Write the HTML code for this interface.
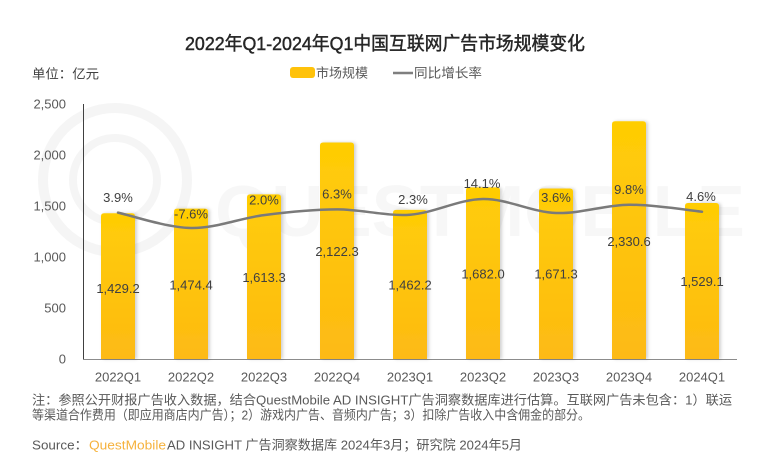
<!DOCTYPE html>
<html>
<head>
<meta charset="utf-8">
<style>
html,body{margin:0;padding:0;background:#fff;}
svg{display:block;}
text{font-family:"Liberation Sans","Noto Sans CJK SC",sans-serif;}
</style>
</head>
<body>
<svg width="770" height="460" viewBox="0 0 770 460" xmlns="http://www.w3.org/2000/svg">
<defs>
<linearGradient id="bg" x1="0" y1="0" x2="0" y2="1">
<stop offset="0" stop-color="#FFCD05"/>
<stop offset="1" stop-color="#FDBA14"/>
</linearGradient>
<filter id="sh" x="-20%" y="-5%" width="150%" height="110%">
<feDropShadow dx="2" dy="0" stdDeviation="1.5" flood-color="#000" flood-opacity="0.18"/>
</filter>
</defs>

<!-- watermark -->
<g fill="none" stroke="#f5f5f5">
<circle cx="115" cy="180" r="72" stroke-width="10"/>
<circle cx="115" cy="180" r="42" stroke-width="8"/>
</g>
<text x="215" y="236" font-size="72" font-weight="bold" fill="#f7f7f7" textLength="530" lengthAdjust="spacingAndGlyphs">QUESTMOBILE</text>

<!-- title -->
<text x="385" y="50" font-size="18.5" fill="#262626" stroke="#262626" stroke-width="0.45" text-anchor="middle" textLength="400" lengthAdjust="spacingAndGlyphs">2022年Q1-2024年Q1中国互联网广告市场规模变化</text>

<!-- unit -->
<text x="32" y="78.5" font-size="13" fill="#404040" textLength="67" lengthAdjust="spacingAndGlyphs">单位：亿元</text>

<!-- legend -->
<rect x="290" y="67" width="25" height="11" rx="3" fill="#FFC20A"/>
<text x="316" y="77.5" font-size="13" fill="#595959" textLength="52" lengthAdjust="spacingAndGlyphs">市场规模</text>
<line x1="393" y1="73" x2="413" y2="73" stroke="#7f7f7f" stroke-width="2.5"/>
<text x="414" y="77.5" font-size="13" fill="#595959" textLength="68" lengthAdjust="spacingAndGlyphs">同比增长率</text>

<!-- y ticks -->
<g font-size="13" fill="#595959" text-anchor="end">
<text x="66" y="363.5">0</text>
<text x="66" y="312.5">500</text>
<text x="66" y="261.5">1,000</text>
<text x="66" y="210.5">1,500</text>
<text x="66" y="159.5">2,000</text>
<text x="66" y="108.5">2,500</text>
</g>

<!-- axes -->
<line x1="83.5" y1="104" x2="83.5" y2="359" stroke="#404040" stroke-width="1"/>
<line x1="83" y1="359.5" x2="737" y2="359.5" stroke="#8c8c8c" stroke-width="1"/>

<!-- bars -->
<g fill="url(#bg)" filter="url(#sh)">
<path d="M101,359 V216.2 Q101,213.2 104,213.2 H132 Q135,213.2 135,216.2 V359 Z"/>
<path d="M174,359 V211.6 Q174,208.6 177,208.6 H205 Q208,208.6 208,211.6 V359 Z"/>
<path d="M247,359 V197.4 Q247,194.4 250,194.4 H278 Q281,194.4 281,197.4 V359 Z"/>
<path d="M320,359 V145.5 Q320,142.5 323,142.5 H351 Q354,142.5 354,145.5 V359 Z"/>
<path d="M393,359 V212.9 Q393,209.9 396,209.9 H424 Q427,209.9 427,212.9 V359 Z"/>
<path d="M466,359 V190.4 Q466,187.4 469,187.4 H497 Q500,187.4 500,190.4 V359 Z"/>
<path d="M539,359 V191.5 Q539,188.5 542,188.5 H570 Q573,188.5 573,191.5 V359 Z"/>
<path d="M612,359 V124.3 Q612,121.3 615,121.3 H643 Q646,121.3 646,124.3 V359 Z"/>
<path d="M685,359 V206 Q685,203 688,203 H716 Q719,203 719,206 V359 Z"/>
</g>

<!-- growth line -->
<path d="M118,212.6 C130,215.2 166.7,227.6 191,228 C215.3,228.4 239.7,218.2 264,215.1 C288.3,212 312.7,209.5 337,209.4 C361.3,209.3 385.7,216.4 410,214.7 C434.3,213 458.7,199.3 483,199 C507.3,198.7 531.7,212.1 556,213 C580.3,213.9 604.7,204.9 629,204.7 C653.3,204.5 689.8,210.5 702,211.7" fill="none" stroke="#7a7a7a" stroke-width="2.5" stroke-linecap="round"/>

<!-- percent labels -->
<g font-size="13" fill="#404040" text-anchor="middle">
<text x="118" y="202.2">3.9%</text>
<text x="191" y="218.5">-7.6%</text>
<text x="264" y="204.5">2.0%</text>
<text x="337" y="198.5">6.3%</text>
<text x="413" y="203.8">2.3%</text>
<text x="482" y="187.8">14.1%</text>
<text x="556" y="202.2">3.6%</text>
<text x="629" y="193.8">9.8%</text>
<text x="701" y="201.2">4.6%</text>
</g>

<!-- value labels -->
<g font-size="13" fill="#404040" text-anchor="middle">
<text x="118" y="292.8">1,429.2</text>
<text x="191" y="289.5">1,474.4</text>
<text x="264" y="282.2">1,613.3</text>
<text x="337" y="256.2">2,122.3</text>
<text x="410" y="289.5">1,462.2</text>
<text x="483" y="278.5">1,682.0</text>
<text x="556" y="278.5">1,671.3</text>
<text x="629" y="246.2">2,330.6</text>
<text x="702" y="286.2">1,529.1</text>
</g>

<!-- x labels -->
<g font-size="13" fill="#595959" text-anchor="middle">
<text x="118" y="381.5">2022Q1</text>
<text x="191" y="381.5">2022Q2</text>
<text x="264" y="381.5">2022Q3</text>
<text x="337" y="381.5">2022Q4</text>
<text x="410" y="381.5">2023Q1</text>
<text x="483" y="381.5">2023Q2</text>
<text x="556" y="381.5">2023Q3</text>
<text x="629" y="381.5">2023Q4</text>
<text x="702" y="381.5">2024Q1</text>
</g>

<!-- notes -->
<text x="32" y="404.5" font-size="13" fill="#595959" textLength="700" lengthAdjust="spacingAndGlyphs">注：参照公开财报广告收入数据，结合QuestMobile AD INSIGHT广告洞察数据库进行估算。互联网广告未包含：1）联运</text>
<text x="32" y="419.5" font-size="13" fill="#595959" textLength="558" lengthAdjust="spacingAndGlyphs">等渠道合作费用（即应用商店内广告）；2）游戏内广告、音频内广告；3）扣除广告收入中含佣金的部分。</text>

<!-- source -->
<text x="32" y="449.5" font-size="13" fill="#595959" textLength="56" lengthAdjust="spacingAndGlyphs">Source：</text>
<text x="89" y="449.5" font-size="13" fill="#F6B23C" textLength="77" lengthAdjust="spacingAndGlyphs">QuestMobile</text>
<text x="167" y="449.5" font-size="13" fill="#595959" textLength="355" lengthAdjust="spacingAndGlyphs">AD INSIGHT 广告洞察数据库 2024年3月；研究院 2024年5月</text>
</svg>
</body>
</html>
